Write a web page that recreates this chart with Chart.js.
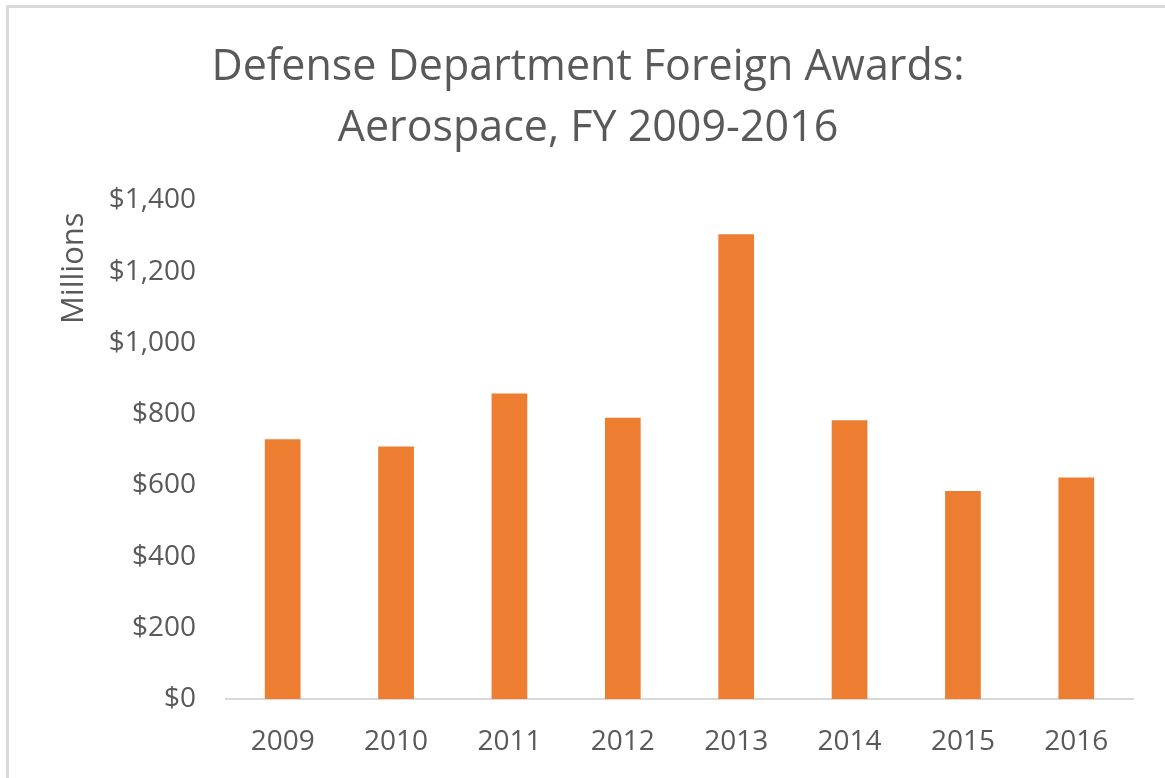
<!DOCTYPE html>
<html>
<head>
<meta charset="utf-8">
<script src="https://cdn.jsdelivr.net/npm/chart.js@4"></script>
<style>
  html, body { margin: 0; padding: 0; background: #fff; }
  #frame {
    position: absolute; left: 6px; top: 5px; width: 1165px; height: 778px;
    border-left: 3px solid #d9d9d9; border-top: 3px solid #d9d9d9; box-sizing: border-box;
  }
  #wrap { position: absolute; left: 0; top: 0; width: 1165px; height: 778px; }
</style>
</head>
<body>
<div id="frame"></div>
<div id="wrap"><canvas id="chart"></canvas></div>
<script>
const years = ["2009", "2010", "2011", "2012", "2013", "2014", "2015", "2016"]
const awards = [729, 709, 858, 790, 1305, 783, 584, 622]
const titleLines = ["Defense Department Foreign Awards:", "Aerospace, FY 2009-2016"]
const unitLabel = "Millions"

const textColor = "#595959"
const fontFamily = "'Open Sans', sans-serif"

// display-unit label, sits at the top of the value axis like in Excel
const unitLabelPlugin = {
  id: "unitLabel",
  afterDraw(chart) {
    const y = chart.scales.y
    const ctx = chart.ctx
    ctx.save()
    ctx.translate(y.left + 31, y.top + 12)
    ctx.rotate(-Math.PI / 2)
    ctx.font = `31px ${fontFamily}`
    ctx.fillStyle = textColor
    ctx.textAlign = "right"
    ctx.textBaseline = "middle"
    ctx.fillText(unitLabel, 0, 0)
    ctx.restore()
  },
}

new Chart(document.getElementById("chart"), {
  type: "bar",
  data: {
    labels: years,
    datasets: [{
      label: "Awards",
      data: awards,
      backgroundColor: "#ed7d31",
      barPercentage: 0.315,
      categoryPercentage: 1,
    }],
  },
  plugins: [unitLabelPlugin],
  options: {
    responsive: true,
    maintainAspectRatio: false,
    animation: false,
    layout: { padding: { left: 43, right: 32, top: 0, bottom: 0 } },
    plugins: {
      legend: { display: false },
      tooltip: { enabled: false },
      title: {
        display: true,
        text: titleLines,
        color: textColor,
        font: { family: fontFamily, size: 43, weight: "normal", lineHeight: 1.4 },
        padding: { top: 38, bottom: 42 },
      },
    },
    scales: {
      x: {
        afterFit: (scale) => { scale.height = 79 },
        grid: { display: false, drawTicks: false },
        border: { display: true, color: "#d9d9d9", width: 2 },
        ticks: { color: textColor, font: { family: fontFamily, size: 28 }, padding: 26 },
      },
      y: {
        min: 0,
        max: 1400,
        afterFit: (scale) => { scale.width = 183 },
        grid: { display: false, drawTicks: false },
        border: { display: false },
        ticks: {
          stepSize: 200,
          color: textColor,
          padding: 30,
          font: { family: fontFamily, size: 28 },
          callback: (v) => "$" + v.toLocaleString("en-US"),
        },
      },
    },
  },
})
</script>
</body>
</html>
